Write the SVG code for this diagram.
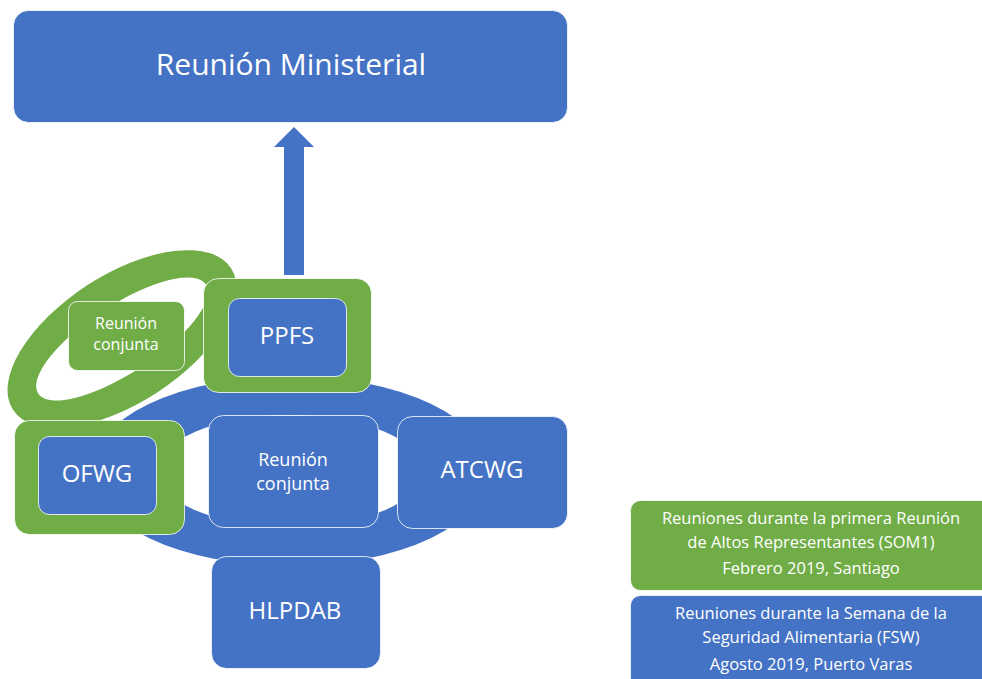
<svg xmlns="http://www.w3.org/2000/svg" width="982" height="679" viewBox="0 0 982 679">
<style>
.b{fill:#4472C4;stroke:#ffffff;stroke-width:1;stroke-opacity:0.8}
.g{fill:#70AD47;stroke:#ffffff;stroke-width:1;stroke-opacity:0.8}
.t{font-family:"Open Sans","Noto Sans","DejaVu Sans",sans-serif;fill:#ffffff;text-anchor:middle}
</style>
<rect width="982" height="679" fill="#ffffff"/>
<g id="ring-blue">
<path fill="#4472C4" fill-rule="evenodd" d="M91,471 a199,95 0 1,0 398,0 a199,95 0 1,0 -398,0 Z M157,471 a133,56 0 1,0 266,0 a133,56 0 1,0 -266,0 Z"/>
</g>
<g id="ring-green">
<path fill="#70AD47" fill-rule="evenodd" transform="rotate(-33 122 339)" d="M-8,339 a130,64 0 1,0 260,0 a130,64 0 1,0 -260,0 Z M22,339 a100,34 0 1,0 200,0 a100,34 0 1,0 -200,0 Z"/>
</g>
<g id="connectors">
<polygon fill="#4472C4" points="284,275 284,147 274,147 294,127 314,147 304,147 304,275"/>
</g>
<g id="ministerial">
<rect class="b" x="13.5" y="10.5" width="554" height="112" rx="15"/>
<text class="t" x="291" y="75" font-size="30">Reunión Ministerial</text>
</g>
<g id="joint-green">
<rect class="g" x="68.5" y="301.5" width="116" height="69" rx="9"/>
<text class="t" x="126" y="329" font-size="16">Reunión</text>
<text class="t" x="126" y="350" font-size="16">conjunta</text>
</g>
<g id="ppfs">
<rect class="g" x="203.5" y="278.5" width="168" height="114" rx="15"/>
<rect class="b" x="228.5" y="298.5" width="118" height="78" rx="11"/>
<text class="t" x="287" y="344" font-size="24">PPFS</text>
</g>
<g id="ofwg">
<rect class="g" x="14.5" y="420.5" width="170" height="114" rx="15"/>
<rect class="b" x="38.5" y="436.5" width="118" height="78" rx="11"/>
<text class="t" x="97" y="482" font-size="24">OFWG</text>
</g>
<g id="joint-blue">
<rect class="b" x="208.5" y="415.5" width="170" height="112" rx="15"/>
<text class="t" x="293" y="466" font-size="18">Reunión</text>
<text class="t" x="293" y="490" font-size="18">conjunta</text>
</g>
<g id="atcwg">
<rect class="b" x="397.5" y="416.5" width="170" height="112" rx="15"/>
<text class="t" x="482" y="478" font-size="24">ATCWG</text>
</g>
<g id="hlpdab">
<rect class="b" x="211.5" y="556.5" width="169" height="112" rx="15"/>
<text class="t" x="295" y="619" font-size="24">HLPDAB</text>
</g>
<g id="legend-som1">
<rect class="g" x="630.5" y="500.5" width="362" height="90" rx="10"/>
<text class="t" x="811" y="524" font-size="16.5">Reuniones durante la primera Reunión</text>
<text class="t" x="811" y="548" font-size="16.5">de Altos Representantes (SOM1)</text>
<text class="t" x="811" y="574" font-size="16.5">Febrero 2019, Santiago</text>
</g>
<g id="legend-fsw">
<rect class="b" x="630.5" y="595.5" width="362" height="100" rx="10"/>
<text class="t" x="811" y="619" font-size="16.5">Reuniones durante la Semana de la</text>
<text class="t" x="811" y="643" font-size="16.5">Seguridad Alimentaria (FSW)</text>
<text class="t" x="811" y="670" font-size="16.5">Agosto 2019, Puerto Varas</text>
</g>
</svg>
